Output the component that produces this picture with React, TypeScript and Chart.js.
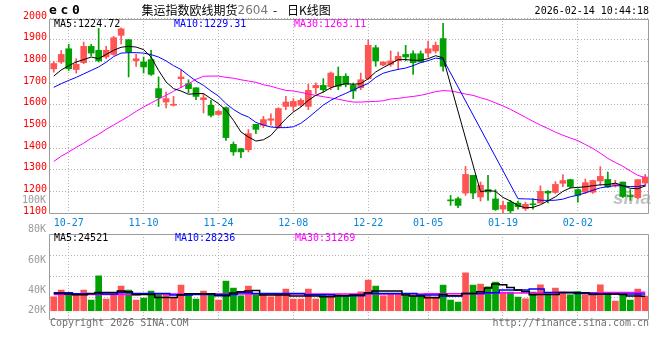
import React, { useEffect, useRef } from "react";
import { Chart, registerables } from "chart.js";

Chart.register(...registerables);

// ---------------- data ----------------
const dates = [
  "10-23","10-24","10-27","10-28","10-29","10-30","10-31",
  "11-03","11-04","11-05","11-06","11-07",
  "11-10","11-11","11-12","11-13","11-14",
  "11-17","11-18","11-19","11-20","11-21",
  "11-24","11-25","11-26","11-27","11-28",
  "12-01","12-02","12-03","12-04","12-05",
  "12-08","12-09","12-10","12-11","12-12",
  "12-15","12-16","12-17","12-18","12-19",
  "12-22","12-23","12-24","12-25","12-26",
  "12-29","12-30","12-31",
  "01-05","01-06","01-07","01-08","01-09",
  "01-12","01-13","01-14","01-15","01-16",
  "01-19","01-20","01-21","01-22","01-23",
  "01-26","01-27","01-28","01-29","01-30",
  "02-02","02-03","02-04","02-05","02-06",
  "02-09","02-10","02-11","02-12","02-13",
];

const xTickLabels = ["10-27","11-10","11-24","12-08","12-22","01-05","01-19","02-02"];

const opens = [
  1765,1797,1858,1762,1794,1869,1851,1820,1832,1920,
  1900,1803,1797,1808,1674,1612,1597,1720,1697,1678,
  1623,1597,1555,1586,1417,1397,1392,1509,1505,1528,
  1497,1592,1592,1597,1592,1678,1689,1682,1731,1731,
  1689,1678,1720,1863,1783,1786,1802,1832,1835,1835,
  1838,1848,1905,1160,1166,1192,1274,1174,1208,1165,
  1118,1150,1146,1120,1141,1146,1200,1195,1237,1254,
  1208,1196,1196,1248,1255,1228,1243,1178,1171,1238,
];
const closes = [
  1790,1832,1766,1786,1869,1838,1802,1851,1909,1950,
  1843,1812,1774,1740,1632,1628,1602,1728,1674,1638,
  1632,1551,1569,1448,1382,1382,1466,1486,1531,1535,
  1582,1612,1615,1620,1666,1689,1669,1746,1685,1694,
  1663,1715,1874,1802,1797,1802,1823,1820,1794,1797,
  1858,1874,1777,1156,1135,1278,1192,1228,1197,1116,
  1135,1110,1129,1140,1138,1200,1192,1232,1250,1222,
  1182,1240,1250,1269,1220,1235,1176,1176,1254,1266,
];
const highs = [
  1800,1850,1878,1812,1889,1878,1952,1869,1915,1955,
  1900,1832,1820,1851,1728,1658,1638,1758,1715,1678,
  1651,1620,1575,1590,1428,1397,1485,1509,1546,1558,
  1586,1638,1628,1628,1694,1700,1720,1751,1774,1743,
  1700,1746,1900,1874,1797,1848,1843,1874,1848,1848,
  1894,1889,1975,1181,1174,1315,1274,1243,1274,1208,
  1155,1158,1155,1150,1165,1225,1204,1245,1277,1256,
  1212,1257,1252,1314,1289,1251,1243,1208,1254,1278,
];
const lows = [
  1750,1790,1758,1746,1789,1825,1797,1812,1828,1880,
  1728,1777,1746,1735,1592,1585,1594,1678,1654,1623,
  1562,1543,1550,1435,1366,1355,1382,1466,1494,1505,
  1492,1577,1571,1592,1577,1651,1658,1669,1669,1682,
  1628,1669,1715,1777,1780,1777,1762,1802,1740,1797,
  1820,1838,1755,1135,1125,1181,1166,1155,1158,1112,
  1102,1100,1118,1112,1118,1146,1147,1190,1222,1215,
  1150,1189,1190,1228,1217,1220,1171,1158,1166,1223,
];

const ma5 = [
  1732,1760,1780,1797,1808,1820,1812,1832,1851,1865,
  1869,1866,1854,1820,1758,1705,1674,1663,1648,1651,
  1651,1628,1605,1574,1528,1474,1451,1432,1438,1458,
  1497,1535,1566,1589,1620,1643,1658,1678,1689,1697,
  1694,1697,1720,1751,1771,1789,1808,1808,1805,1805,
  1812,1826,1816,null,null,null,null,1198,1204,1200,
  1172,1155,1134,1124,1126,1138,1156,1175,1200,1216,
  1218,1221,1226,1230,1231,1238,1226,1214,1212,1225,
];
const ma10 = [
  1680,1697,1712,1726,1742,1758,1774,1796,1822,1838,
  1840,1840,1838,1831,1820,1802,1780,1762,1735,1709,
  1689,1663,1640,1605,1578,1557,1543,1518,1506,1497,
  1494,1494,1498,1514,1540,1569,1598,1620,1637,1652,
  1668,1683,1698,1726,1745,1755,1763,1769,1780,1794,
  1803,1815,1810,null,null,null,null,null,null,null,
  null,null,1166,1165,1164,1159,1158,1159,1164,1175,
  1182,1193,1205,1216,1222,1226,1225,1222,1222,1229,
];
const ma30 = [
  1338,1362,1382,1403,1422,1445,1463,1486,1506,1526,
  1546,1569,1589,1608,1626,1643,1662,1680,1697,1717,
  1731,1732,1732,1726,1722,1715,1709,1703,1692,1685,
  1675,1666,1663,1657,1649,1643,1637,1631,1625,1618,
  1612,1612,1614,1615,1618,1626,1629,1634,1638,1643,
  1651,1660,1665,1663,1657,1649,1643,1632,1622,1608,
  1594,1578,1560,1542,1523,1506,1490,1473,1459,1446,
  1434,1416,1398,1376,1352,1333,1316,1294,1274,1263,
];

const volumes = [
  23660,34980,29240,26530,34980,18080,59150,19770,27550,41740,
  34980,18080,21460,33290,27550,27550,22480,43430,29240,19770,
  33290,29240,18080,50190,38360,25350,41740,27040,26530,23660,
  27550,36670,19770,19770,36670,19770,28220,27550,27550,26530,
  27550,32110,51880,41740,25350,29240,27550,25350,25350,25350,
  25350,23660,43430,18080,14700,64220,43430,45120,40560,48500,
  31600,31600,23150,20280,31600,43940,28730,38360,31600,27040,
  32620,27040,25860,43940,29240,16390,27040,18080,36670,24840,
];
const volMa5 = [
  29350,29350,28220,27100,27100,29350,31040,31040,31040,33290,
  32170,27100,27660,27660,22590,22590,22590,27100,28790,28790,
  28790,28790,25410,25410,29910,32170,33290,34420,26530,26530,
  26530,26530,24840,24840,24840,24840,23720,23720,25410,25410,
  26530,26530,30480,33290,33290,33290,33290,26530,24840,24840,
  22030,22030,27660,25410,25410,29350,29350,32170,38360,45120,
  43990,39490,34980,32730,27100,27660,27660,27660,31040,31040,
  30480,30480,27660,28220,28220,28220,27660,24840,24840,24520,
];
const volMa10 = [
  30480,30480,30480,28790,28790,28790,28790,28220,28220,31040,
  31040,29350,29350,29350,29350,29350,26530,26530,26530,27660,
  27660,27660,27660,27660,27660,30480,30480,29350,29350,29350,
  29350,29350,29350,29350,27100,27100,27100,27100,25410,25410,
  25410,25410,29350,29350,29350,29350,29350,29350,29350,26530,
  26530,26530,24840,24840,24840,29350,29350,29350,30480,30480,
  34980,34980,34980,34980,36670,36670,31040,31040,31040,31040,
  29350,29350,29350,28220,28220,28220,28220,28220,28220,28240,
];
const volMa30 = [
  27660,27660,27660,27660,27660,27660,27660,27660,27660,27660,
  27660,27660,28220,28220,28220,28220,28220,28220,28220,28220,
  28220,28220,28220,28220,28220,28220,28220,28220,28220,28220,
  28220,28220,28220,28220,28220,28220,28220,28220,28220,28220,
  28220,28220,28220,28220,28220,28220,28220,28220,28220,28220,
  28790,28790,28790,28790,28790,28790,28790,28790,29910,29910,
  29910,29910,29910,29910,29910,29910,30480,30480,30480,30480,
  30480,30480,30480,30480,31040,31040,31040,31040,31040,31270,
];

const mainLegendValues = [1224.72, 1229.31, 1263.11];
const volLegendValues = [24521, 28236, 31269];
const volAxisLabels = ["100K", "80K", "60K", "40K", "20K"];
const titleCode = "ec0";
const titleName = "集运指数欧线期货";
const titleContract = "2604";
const titleKind = "日K线图";
const timestamp = "2026-02-14 10:44:18";

// ---------------- styles ----------------
const MONO = '"DejaVu Sans Mono", "Liberation Mono", monospace';
const CJK = '"Noto Sans CJK SC", "Noto Sans", sans-serif';
const RED = "#ff5454";
const GREEN = "#00a100";
const GRID = "#b4b4b4";
const FRAME = "#9c9c9c";
const VOL_TOP = 190;

const candleColors = closes.map((c, i) => (c >= opens[i] ? RED : GREEN));

function keepLabelTicks(scale: any) {
  scale.ticks = scale.ticks.filter((t: any) => xTickLabels.includes(dates[t.value]));
}

function frame(ctx: CanvasRenderingContext2D, a: any, topShift: number) {
  ctx.save();
  ctx.strokeStyle = FRAME;
  ctx.lineWidth = 1;
  ctx.beginPath();
  const l = Math.round(a.left) - 0.5;
  const r = Math.round(a.right) - 0.5;
  const t = Math.round(a.top) + topShift + 0.5;
  const b = Math.round(a.bottom) + 0.5;
  ctx.moveTo(l, t);
  ctx.lineTo(r, t);
  ctx.lineTo(r, b);
  ctx.lineTo(l, b);
  ctx.closePath();
  ctx.stroke();
  ctx.restore();
}

const mainDecor = {
  id: "mainDecor",
  beforeDatasetsDraw(chart: any) {
    const { ctx, chartArea: a } = chart;
    ctx.save();
    ctx.font = "italic bold 19px 'Liberation Sans', Arial, sans-serif";
    ctx.fillStyle = "rgba(175,175,175,0.75)";
    ctx.textAlign = "right";
    ctx.textBaseline = "alphabetic";
    ctx.fillText("sina", a.right + 2, a.bottom - 9);
    ctx.restore();
  },
  afterDatasetsDraw(chart: any) {
    frame(chart.ctx, chart.chartArea, 1);
  },
  afterDraw(chart: any) {
    const { ctx, chartArea: a } = chart;
    ctx.save();
    ctx.textBaseline = "middle";
    // code
    ctx.font = `bold 13px ${MONO}`;
    ctx.fillStyle = "#000";
    ctx.textAlign = "left";
    titleCode.split("").forEach((ch, i) => ctx.fillText(ch, a.left - 1 + i * 11.5, 11));
    // title
    ctx.font = `12px ${CJK}`;
    ctx.fillText(titleName, 141.5, 10.5);
    ctx.font = `12px "DejaVu Sans", sans-serif`;
    ctx.fillStyle = "#777777";
    ctx.fillText(titleContract, 237.5, 11);
    ctx.fillStyle = "#000";
    ctx.font = `12px ${CJK}`;
    ctx.fillText("-", 273, 10.5);
    ctx.fillText(titleKind, 287, 10.5);
    // time
    ctx.font = `10px ${MONO}`;
    ctx.textAlign = "right";
    ctx.fillText(timestamp, a.right, 11.5);
    // legend
    ctx.textAlign = "left";
    const names = ["MA5", "MA10", "MA30"];
    const cols = ["#000000", "#0000ff", "#ff00ff"];
    const xs = [a.left + 4, a.left + 124, a.left + 244];
    names.forEach((n, i) => {
      ctx.fillStyle = cols[i];
      ctx.fillText(`${n}:${mainLegendValues[i].toFixed(2)}`, xs[i], a.top + 6.5);
    });
    ctx.restore();
  },
};

const volDecor = {
  id: "volDecor",
  afterDatasetsDraw(chart: any) {
    frame(chart.ctx, chart.chartArea, 0);
  },
  afterDraw(chart: any) {
    const { ctx, chartArea: a, scales } = chart;
    ctx.save();
    ctx.textBaseline = "middle";
    ctx.font = `10px ${MONO}`;
    // axis labels (Sina style placement relative to the volume box)
    ctx.fillStyle = "#9a9a9a";
    ctx.textAlign = "right";
    const labelY = [a.top - 34, a.top - 4.7, a.top + 26.7, a.top + 56.7, scales.y.getPixelForValue(0)];
    volAxisLabels.forEach((t, i) => ctx.fillText(t, a.left - 4, labelY[i]));
    // legend
    ctx.textAlign = "left";
    const names = ["MA5", "MA10", "MA30"];
    const cols = ["#000000", "#0000ff", "#ff00ff"];
    const xs = [a.left + 4, a.left + 125, a.left + 245];
    names.forEach((n, i) => {
      ctx.fillStyle = cols[i];
      ctx.fillText(`${n}:${volLegendValues[i]}`, xs[i], a.top + 4.5);
    });
    // footer
    ctx.fillStyle = "#707070";
    ctx.fillText("Copyright 2026 SINA.COM", a.left, a.bottom + 4.5);
    ctx.textAlign = "right";
    ctx.fillText("http://finance.sina.com.cn", a.right, a.bottom + 4.5);
    ctx.restore();
  },
};

export default function App() {
  const mainRef = useRef<HTMLCanvasElement>(null);
  const volRef = useRef<HTMLCanvasElement>(null);

  useEffect(() => {
    document.body.style.margin = "0";
    Chart.defaults.font.family = MONO;
    Chart.defaults.font.size = 10;

    const lineDs = (label: string, data: any[], color: string, width: number, stepped: any = false) => ({
      type: "line" as const,
      label,
      data,
      borderColor: color,
      backgroundColor: color,
      borderWidth: width,
      pointRadius: 0,
      spanGaps: true,
      tension: 0,
      fill: false,
      stepped,
    });

    const main = new Chart(mainRef.current as HTMLCanvasElement, {
      type: "bar",
      data: {
        labels: dates,
        datasets: [
          lineDs("MA5", ma5, "#000000", 1),
          lineDs("MA10", ma10, "#0000ff", 1),
          lineDs("MA30", ma30, "#ff00ff", 1),
          {
            type: "bar",
            label: "body",
            data: opens.map((o, i) => [o, closes[i]]),
            backgroundColor: candleColors,
            borderWidth: 0,
            barThickness: 6,
            grouped: false,
            minBarLength: 1,
          } as any,
          {
            type: "bar",
            label: "wick",
            data: lows.map((l, i) => [l, highs[i]]),
            backgroundColor: candleColors,
            borderWidth: 0,
            barThickness: 1,
            grouped: false,
          } as any,
        ],
      },
      options: {
        responsive: false,
        maintainAspectRatio: false,
        devicePixelRatio: 1,
        animation: false,
        events: [],
        layout: { padding: { top: 18, right: 11, left: 0, bottom: 0 } },
        plugins: { legend: { display: false }, tooltip: { enabled: false } },
        scales: {
          x: {
            offset: true,
            afterBuildTicks: keepLabelTicks,
            afterFit: (s: any) => { s.height = 19; },
            grid: { offset: false, color: GRID, drawTicks: false, lineWidth: 1 },
            border: { display: false, dash: [1, 2] },
            ticks: { autoSkip: false, maxRotation: 0, color: "#0a84d6", font: { size: 10, family: MONO }, padding: 4 },
          },
          y: {
            min: 1100,
            max: 2000,
            afterFit: (s: any) => { s.width = 50; },
            grid: { color: GRID, drawTicks: false },
            border: { display: false, dash: [1, 2] },
            ticks: {
              stepSize: 100,
              color: "#ff0000",
              font: { size: 10, family: MONO },
              padding: 3,
              labelOffset: -2,
              callback: (v: any) => String(v),
            },
          },
        },
      } as any,
      plugins: [mainDecor],
    });

    const vol = new Chart(volRef.current as HTMLCanvasElement, {
      type: "bar",
      data: {
        labels: dates,
        datasets: [
          lineDs("MA5", volMa5, "#000000", 1.5, "middle"),
          lineDs("MA10", volMa10, "#0000ff", 1.5, "middle"),
          lineDs("MA30", volMa30, "#ff00ff", 1.5, "middle"),
          {
            type: "bar",
            label: "volume",
            data: volumes,
            backgroundColor: candleColors,
            borderWidth: 0,
            barThickness: 6,
            grouped: false,
          } as any,
        ],
      },
      options: {
        responsive: false,
        maintainAspectRatio: false,
        devicePixelRatio: 1,
        animation: false,
        events: [],
        layout: { padding: { top: 234 - VOL_TOP, right: 11, left: 0, bottom: 170 - (319 - VOL_TOP) } },
        plugins: { legend: { display: false }, tooltip: { enabled: false } },
        scales: {
          x: {
            offset: true,
            afterBuildTicks: keepLabelTicks,
            afterFit: (s: any) => { s.height = 0; },
            grid: { offset: false, color: GRID, drawTicks: false },
            border: { display: false, dash: [1, 2] },
            ticks: { display: false },
          },
          y: {
            min: -14000,
            max: 130000,
            afterFit: (s: any) => { s.width = 50; },
            grid: { color: GRID, drawTicks: false },
            border: { display: false, dash: [1, 2] },
            ticks: { display: false, count: 5 },
          },
        },
      } as any,
      plugins: [volDecor],
    });

    return () => {
      main.destroy();
      vol.destroy();
    };
  }, []);

  return (
    <div style={{ position: "fixed", left: 0, top: 0, width: 660, height: 360, background: "#ffffff", overflow: "hidden" }}>
      <canvas ref={mainRef} width={660} height={232} style={{ position: "absolute", left: 0, top: 0, width: 660, height: 232 }} />
      <canvas ref={volRef} width={660} height={170} style={{ position: "absolute", left: 0, top: VOL_TOP, width: 660, height: 170 }} />
    </div>
  );
}
